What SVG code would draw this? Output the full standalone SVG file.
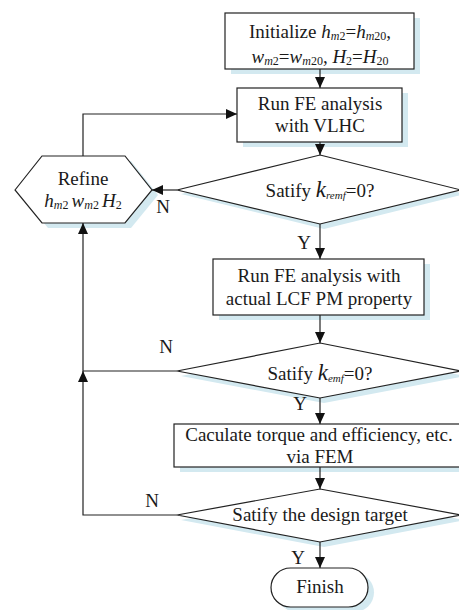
<svg xmlns="http://www.w3.org/2000/svg" width="459" height="610" viewBox="0 0 459 610">
<style>
.s{fill:#d3e9f0;stroke:none}
.b{fill:#fff;stroke:#222;stroke-width:1.2}
.l{fill:none;stroke:#222;stroke-width:1.2}
text{font-size:19px;fill:#1a1a1a}
.c{text-anchor:middle}
.i{font-style:italic}
.sb{font-size:12px}
.k{font-style:italic;font-size:23px}
.sk{font-style:italic;font-size:11px}
</style>
<defs>
<marker id="a" markerUnits="userSpaceOnUse" markerWidth="11" markerHeight="10" refX="11" refY="5" orient="auto">
<path d="M0,0 L11,5 L0,10 z" fill="#111"/>
</marker>
</defs>
<rect width="459" height="610" fill="#fff"/>
<g font-family="'Liberation Serif', 'DejaVu Serif', serif">
<g id="init">
<rect class="s" x="231" y="18" width="189" height="56"/>
<rect class="b" x="225" y="13" width="189" height="56"/>
<text class="c" x="320" y="38">Initialize <tspan class="i">h</tspan><tspan class="sb" dy="2"><tspan class="i">m</tspan>2</tspan><tspan dy="-2">=</tspan><tspan class="i">h</tspan><tspan class="sb" dy="2"><tspan class="i">m</tspan>20</tspan><tspan dy="-2">,</tspan></text>
<text class="c" x="320" y="63"><tspan class="i">w</tspan><tspan class="sb" dy="2"><tspan class="i">m</tspan>2</tspan><tspan dy="-2">=</tspan><tspan class="i">w</tspan><tspan class="sb" dy="2"><tspan class="i">m</tspan>20</tspan><tspan dy="-2">, </tspan><tspan class="i">H</tspan><tspan class="sb" dy="2">2</tspan><tspan dy="-2">=</tspan><tspan class="i">H</tspan><tspan class="sb" dy="2">20</tspan></text>
</g>
<g id="fe_vlhc">
<rect class="s" x="243" y="93" width="165" height="54"/>
<rect class="b" x="237" y="88" width="165" height="54"/>
<text class="c" x="320" y="110">Run FE analysis</text>
<text class="c" x="320" y="132">with VLHC</text>
</g>
<g id="dec1">
<polygon class="s" points="324,160 465,194 324,229 181,194"/>
<polygon class="b" points="320,155 461,190 320,224 177,190"/>
<text class="c" x="320" y="197">Satify <tspan class="k">k</tspan><tspan class="sk" dy="2">remf</tspan><tspan dy="-2">=0?</tspan></text>
</g>
<g id="refine">
<polygon class="s" points="21,195 48,161 131,161 158,195 131,228 48,228"/>
<polygon class="b" points="15,190 42,156 125,156 152,190 125,223 42,223"/>
<text class="c" x="83" y="185">Refine</text>
<text class="c" x="83" y="207"><tspan class="i">h</tspan><tspan class="sb" dy="2"><tspan class="i">m</tspan>2 </tspan><tspan class="i" dy="-2">w</tspan><tspan class="sb" dy="2"><tspan class="i">m</tspan>2 </tspan><tspan class="i" dy="-2">H</tspan><tspan class="sb" dy="2">2</tspan></text>
</g>
<g id="fe_lcf">
<rect class="s" x="219" y="264" width="211" height="56"/>
<rect class="b" x="213" y="259" width="211" height="56"/>
<text class="c" x="319" y="282">Run FE analysis with</text>
<text class="c" x="319" y="305">actual LCF PM property</text>
</g>
<g id="dec2">
<polygon class="s" points="324,348 465,376 324,403 181,376"/>
<polygon class="b" points="320,343 461,371 320,398 177,371"/>
<text class="c" x="320" y="380">Satify <tspan class="k">k</tspan><tspan class="sk" dy="2">emf</tspan><tspan dy="-2">=0?</tspan></text>
</g>
<g id="calc">
<rect class="s" x="180" y="429" width="300" height="43"/>
<rect class="b" x="174" y="424" width="300" height="43"/>
<text class="c" x="319" y="441">Caculate torque and efficiency, etc.</text>
<text class="c" x="320" y="463">via FEM</text>
</g>
<g id="dec3">
<polygon class="s" points="324,494 465,520 324,547 181,520"/>
<polygon class="b" points="320,489 461,515 320,542 177,515"/>
<text class="c" x="320" y="521">Satify the design target</text>
</g>
<g id="finish">
<rect class="s" x="277" y="573" width="97" height="39" rx="19.5"/>
<rect class="b" x="271" y="568" width="97" height="39" rx="19.5"/>
<text class="c" x="320" y="593">Finish</text>
</g>
<g id="connectors">
<path class="l" d="M320,69 V88" marker-end="url(#a)"/>
<path class="l" d="M320,142 V155" marker-end="url(#a)"/>
<path class="l" d="M320,224 V259" marker-end="url(#a)"/>
<path class="l" d="M320,315 V343" marker-end="url(#a)"/>
<path class="l" d="M320,398 V424" marker-end="url(#a)"/>
<path class="l" d="M320,467 V489" marker-end="url(#a)"/>
<path class="l" d="M320,542 V568" marker-end="url(#a)"/>
<path class="l" d="M177,190 H152" marker-end="url(#a)"/>
<path class="l" d="M83,156 V114 H237" marker-end="url(#a)"/>
<path class="l" d="M177,515 H83 V371" marker-end="url(#a)"/>
<path class="l" d="M177,371 H83 V223" marker-end="url(#a)"/>
<text class="c" x="163" y="213">N</text>
<text class="c" x="304" y="249">Y</text>
<text class="c" x="166" y="353">N</text>
<text class="c" x="300" y="410">Y</text>
<text class="c" x="152" y="507">N</text>
<text class="c" x="298" y="564">Y</text>
</g>
</g>
</svg>
